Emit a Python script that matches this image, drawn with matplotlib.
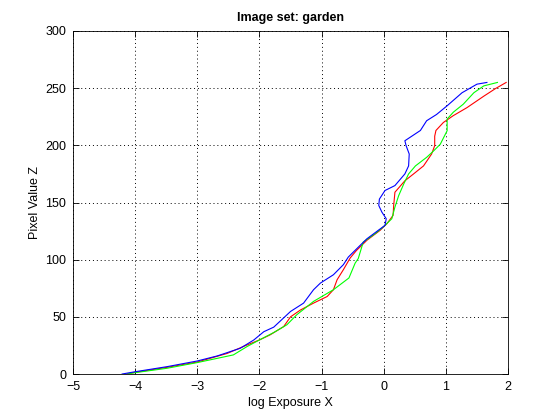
"""Camera response curves for the garden image set."""

import matplotlib

matplotlib.use("Agg")
import matplotlib.pyplot as plt

# log exposure / pixel value pairs, per channel
RED_X = [-4.13, -4.0, -3.49, -3.0, -2.52, -2.20, -2.0, -1.83, -1.61, -1.50, -1.34,
         -1.13, -0.91, -0.81, -0.75, -0.65, -0.54, -0.44, -0.27, -0.06, 0.05, 0.15,
         0.16, 0.18, 0.34, 0.48, 0.64, 0.77, 0.82, 0.82, 0.84, 0.96, 1.12, 1.34,
         1.61, 1.80, 1.97]
RED_Y = [0, 1.5, 5.8, 10.5, 18, 25.4, 29.8, 34.2, 41.5, 50, 56, 62, 67.8, 73.7, 82.5,
         91.2, 101.5, 108, 117, 125.6, 131.4, 138.7, 147.4, 159, 169, 175, 182, 192.4,
         199.7, 208, 213, 220, 226, 233, 243, 249.7, 255]

GREEN_X = [-4.13, -4.0, -3.49, -3.0, -2.42, -2.20, -2.0, -1.77, -1.56, -1.40, -1.13,
           -0.81, -0.56, -0.46, -0.41, -0.33, -0.14, -0.01, 0.13, 0.18, 0.24, 0.32,
           0.40, 0.51, 0.69, 0.80, 0.91, 1.02, 1.02, 1.12, 1.28, 1.45, 1.61, 1.83]
GREEN_Y = [0, 1.2, 5, 10, 16.7, 24, 29.8, 36.3, 43, 51.8, 63.5, 73.7, 84, 97, 101,
           115.4, 122.7, 128.5, 135.8, 146, 156, 166, 175, 182, 189.5, 195, 201, 212.8,
           223, 229, 236, 246, 252, 255]

BLUE_X = [-4.21, -4.0, -3.49, -3.0, -2.68, -2.31, -2.09, -1.93, -1.77, -1.50, -1.29,
          -1.13, -1.02, -0.81, -0.65, -0.57, -0.38, -0.27, -0.09, 0.02, 0.04, -0.03,
          -0.08, -0.07, 0.02, 0.18, 0.34, 0.40, 0.41, 0.36, 0.34, 0.59, 0.69, 0.85,
          1.02, 1.26, 1.50, 1.66]
BLUE_Y = [0, 2, 6.4, 11.4, 15.8, 22.5, 29.8, 37, 41, 54.7, 62, 73.7, 79.5, 86.8, 95.6,
          102.3, 112.5, 118.3, 125.6, 130, 135.8, 141.6, 147.4, 153, 160.5, 164.8, 175,
          182, 192.4, 199.7, 204, 213, 221.5, 227, 234.6, 246, 253.5, 255]

X_TICKS = [-5, -4, -3, -2, -1, 0, 1, 2]
Y_TICKS = [0, 50, 100, 150, 200, 250, 300]


def main():
    plt.rcParams["font.family"] = ["Liberation Sans", "DejaVu Sans"]
    fig = plt.figure(figsize=(5.6, 4.2), dpi=100)
    ax = fig.add_axes([0.1304, 0.1095, 0.7768, 0.8167])

    ax.plot(RED_X, RED_Y, color="#ff0000", lw=0.8)
    ax.plot(GREEN_X, GREEN_Y, color="#00ff00", lw=0.8)
    ax.plot(BLUE_X, BLUE_Y, color="#0000ff", lw=0.8)

    ax.set_xlim(-5, 2)
    ax.set_ylim(0, 300)
    ax.set_xticks(X_TICKS)
    ax.set_yticks(Y_TICKS)
    ax.tick_params(direction="in", length=4, width=0.6, labelsize=9, top=True,
                   right=True, pad=5)
    ax.grid(True, color="black", linestyle=(0, (1, 3)), linewidth=0.7)
    for spine in ax.spines.values():
        spine.set_linewidth(0.6)

    ax.set_title("Image set: garden", fontsize=9, fontweight="bold", pad=7)
    ax.set_xlabel("log Exposure X", fontsize=9, labelpad=3)
    ax.set_ylabel("Pixel Value Z", fontsize=9, labelpad=3)

    fig.savefig("out.png", dpi=100)
    plt.close(fig)


if __name__ == "__main__":
    main()
